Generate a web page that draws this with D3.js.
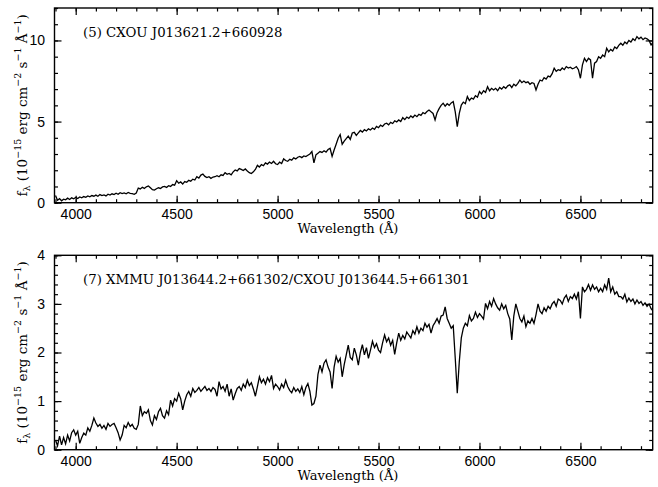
<!DOCTYPE html>
<html>
<head>
<meta charset="utf-8">
<script src="https://cdn.jsdelivr.net/npm/d3@7"></script>
<style>
body { margin: 0; background: #fff; }
</style>
</head>
<body>
<svg id="chart" width="658" height="487"></svg>
<script>
// wavelength bins (Angstrom), one flux value per 10 A bin
const wavelengths = d3.range(3900, 6861, 10);

// (5) CXOU J013621.2+660928, 1e-15 erg/cm2/s/A
const fluxTop = [
    0.45, 0.15, 0.25, 0.12, 0.22, 0.18, 0.28, 0.2, 0.3, 0.24,
    0.32, 0.26, 0.35, 0.3, 0.38, 0.33, 0.42, 0.36, 0.44, 0.4,
    0.47, 0.4, 0.5, 0.44, 0.48, 0.42, 0.52, 0.47, 0.55, 0.5,
    0.58, 0.52, 0.62, 0.56, 0.6, 0.55, 0.63, 0.58, 0.56, 0.52,
    0.6, 0.9, 0.85, 0.95, 0.88, 0.98, 1.03, 0.92, 0.8, 0.78,
    0.86, 0.92, 0.88, 0.97, 1.0, 0.94, 1.05, 1.0, 1.12, 1.08,
    1.36, 1.2, 1.28, 1.15, 1.3, 1.26, 1.38, 1.32, 1.45, 1.4,
    1.6, 1.52, 1.7, 1.76, 1.62, 1.55, 1.6, 1.5, 1.58, 1.6,
    1.66, 1.6, 1.72, 1.68, 1.85, 1.75, 1.8, 1.72, 1.9, 2.02,
    1.96, 2.1, 2.05, 1.98, 2.08, 1.95, 1.85, 1.8, 1.9, 2.05,
    2.3, 2.2, 2.35, 2.28, 2.45, 2.38, 2.5, 2.42, 2.55, 2.4,
    2.35, 2.5, 2.42, 2.7, 2.6, 2.55, 2.68, 2.62, 2.76, 2.7,
    2.8, 2.85, 2.78, 2.88, 2.84, 2.92, 3.0, 3.15, 2.45, 2.95,
    3.05, 3.15, 3.1, 3.2, 3.12, 3.28, 3.35, 2.85, 3.25, 3.6,
    3.97, 4.2, 3.6, 3.8, 3.95, 4.1, 3.9, 4.3, 4.34, 4.15,
    4.3, 4.45, 4.35, 4.5, 4.42, 4.55, 4.48, 4.6, 4.52, 4.7,
    4.62, 4.78, 4.7, 4.85, 4.9, 4.8, 4.95, 4.88, 5.05, 4.98,
    5.1, 5.0, 5.24, 5.12, 5.28, 5.2, 5.35, 5.25, 5.4, 5.3,
    5.45, 5.38, 5.55, 5.48, 5.62, 5.71, 5.6, 5.5, 5.1, 5.55,
    5.8, 6.0, 6.13, 5.95, 6.1, 6.0, 6.15, 6.23, 5.6, 4.69,
    5.5, 6.02, 6.2, 6.1, 6.54, 6.3, 6.45, 6.38, 6.6, 6.5,
    6.85, 6.7, 6.9, 6.8, 7.15, 6.9, 7.05, 6.95, 7.05, 6.9,
    7.1, 7.0, 7.15, 7.05, 7.2, 7.26, 7.1, 7.3, 7.2, 7.35,
    7.56, 7.4, 7.5, 7.4, 7.45, 7.3, 7.4, 7.35, 6.95, 7.3,
    7.56, 7.5, 7.7, 7.62, 7.8, 7.75, 7.95, 8.29, 8.1, 8.2,
    8.15, 8.3, 8.2, 8.39, 8.3, 8.35, 8.25, 8.3, 8.39, 8.2,
    7.67, 8.5, 8.9, 8.7, 8.9, 8.8, 7.67, 8.6, 8.7, 9.0,
    8.9, 9.1, 9.0, 9.52, 9.3, 9.45, 9.35, 9.6, 9.5, 9.7,
    9.83, 9.7, 9.9, 9.8, 10.0, 9.9, 10.1, 10.0, 10.24, 10.1,
    10.2, 10.05, 10.15, 10.1, 10.0, 9.72, 9.9
];

// (7) XMMU J013644.2+661302 / CXOU J013644.5+661301
const fluxBottom = [
    0.2, 0.08, 0.28, 0.1, 0.25, 0.12, 0.3, 0.18, 0.35, 0.41,
    0.3, 0.38, 0.13, 0.25, 0.34, 0.3, 0.45, 0.38, 0.5, 0.65,
    0.55, 0.48, 0.52, 0.44, 0.5, 0.42, 0.54, 0.48, 0.52, 0.54,
    0.45, 0.35, 0.2, 0.3, 0.5, 0.45, 0.56, 0.48, 0.52, 0.44,
    0.42, 0.52, 0.9, 0.7, 0.78, 0.75, 0.82, 0.6, 0.51, 0.7,
    0.62, 0.78, 0.85, 0.7, 0.65, 0.8, 0.72, 1.02, 0.9, 1.05,
    1.0, 1.16, 1.05, 0.82, 1.0, 1.13, 1.2, 1.1, 1.26, 1.18,
    1.22, 1.28, 1.2, 1.25, 1.3, 1.22, 1.26, 1.2, 1.28, 1.24,
    1.1, 1.4, 1.25, 1.3, 1.2, 1.35, 1.1, 1.25, 1.02, 1.15,
    1.26, 1.3, 1.22, 1.35, 1.28, 1.43, 1.32, 1.38, 1.25, 1.1,
    1.3, 1.5, 1.38, 1.45, 1.35, 1.48, 1.4, 1.53, 1.26, 1.35,
    1.3, 1.23, 1.35, 1.28, 1.43, 1.3, 1.22, 1.17, 1.28, 1.2,
    1.25, 1.18, 1.3, 1.13, 1.28, 1.36, 1.2, 0.92, 0.95, 1.1,
    1.55, 1.74, 1.6, 1.78, 1.85, 1.7, 1.6, 1.26, 1.7, 1.92,
    1.8, 1.88, 1.5, 1.75, 1.95, 2.15, 1.9, 1.85, 2.09, 1.95,
    1.74, 2.0, 2.16, 1.95, 2.1, 1.88, 2.05, 2.23, 2.1, 2.18,
    2.05, 2.0, 2.2, 2.36, 2.22, 2.3, 2.15, 2.25, 1.96, 2.2,
    2.4, 2.25, 2.35, 2.28, 2.42, 2.36, 2.3, 2.45, 2.38, 2.53,
    2.4, 2.5, 2.45, 2.6, 2.52, 2.58, 2.4, 2.55, 2.62, 2.7,
    2.6, 2.75, 2.77, 2.94, 2.7, 2.6, 2.5, 2.55, 1.88, 1.16,
    1.81, 2.3, 2.5, 2.6, 2.55, 2.76, 2.65, 2.7, 2.83, 2.72,
    2.8, 2.75, 2.69, 3.01, 2.9, 3.05, 2.95, 3.11, 3.0, 2.92,
    2.87, 3.0, 2.9, 2.97, 2.8, 2.69, 2.26, 2.75, 3.0, 2.85,
    2.7, 2.63, 2.75, 2.53, 2.65, 2.6, 2.7, 2.6, 2.78, 3.0,
    2.85, 2.8, 2.92, 2.85, 2.95, 2.9, 3.0, 3.05, 2.95, 3.1,
    3.07, 3.0, 3.12, 3.18, 3.05, 3.15, 3.11, 3.2, 3.1, 3.25,
    2.7, 3.35, 3.25, 3.3, 3.4, 3.28, 3.39, 3.3, 3.35, 3.25,
    3.32, 3.25, 3.39, 3.3, 3.53, 3.25, 3.35, 3.2, 3.25, 3.15,
    3.15, 3.1, 3.2, 3.04, 3.12, 3.05, 3.1, 3.0, 3.08, 3.01,
    3.05, 2.97, 3.02, 2.95, 3.0, 2.9, 2.85
];

const xMajor = [4000, 4500, 5000, 5500, 6000, 6500];
const xMinor = d3.range(3900, 6860, 100);
const titles = ["(5) CXOU J013621.2+660928",
                "(7) XMMU J013644.2+661302/CXOU J013644.5+661301"];

const svg = d3.select("#chart");
const x = d3.scaleLinear().domain([3895, 6858]).range([54.5, 652.7]);

const panels = [
    { flux: fluxTop, ymax: 12, top: 8, bottom: 202.7,
      major: [0, 5, 10], minor: d3.range(0, 12.01, 1), title: titles[0] },
    { flux: fluxBottom, ymax: 4, top: 255.3, bottom: 449.7,
      major: [0, 1, 2, 3, 4], minor: d3.range(0, 4.01, 0.2), title: titles[1] }
];

const serif = "'DejaVu Serif', serif";
const sans = "'Liberation Sans', Arial, sans-serif";

panels.forEach((p, i) => {
    const y = d3.scaleLinear().domain([0, p.ymax]).range([p.bottom, p.top]);
    const g = svg.append("g");

    g.append("clipPath").attr("id", "clip" + i)
        .append("rect")
        .attr("x", x.range()[0]).attr("y", p.top)
        .attr("width", x.range()[1] - x.range()[0])
        .attr("height", p.bottom - p.top);

    const line = d3.line()
        .x((d, k) => x(wavelengths[k]))
        .y(d => y(d));

    g.append("path")
        .datum(p.flux)
        .attr("clip-path", `url(#clip${i})`)
        .attr("fill", "none")
        .attr("stroke", "#000")
        .attr("stroke-width", 1.3)
        .attr("d", line);

    // ticks point inward on all four sides
    const addAxis = (axis, tx, ty, labels) => {
        const a = g.append("g").attr("transform", `translate(${tx},${ty})`).call(axis);
        a.select(".domain").remove();
        a.selectAll("line").attr("stroke", "#000").attr("stroke-width", 1.2);
        if (!labels) a.selectAll("text").remove();
        return a;
    };
    const left = x.range()[0], right = x.range()[1];

    addAxis(d3.axisBottom(x).tickValues(xMinor).tickSize(-3.5).tickFormat(""), 0, p.bottom);
    addAxis(d3.axisTop(x).tickValues(xMinor).tickSize(-3.5).tickFormat(""), 0, p.top);
    addAxis(d3.axisTop(x).tickValues(xMajor).tickSize(-7).tickFormat(""), 0, p.top);
    const xa = addAxis(d3.axisBottom(x).tickValues(xMajor).tickSize(-7).tickPadding(6.5).tickFormat(d3.format("d")), 0, p.bottom, true);
    xa.selectAll("text").attr("font-family", sans).attr("font-size", 14).attr("fill", "#000");

    addAxis(d3.axisLeft(y).tickValues(p.minor).tickSize(-3.5).tickFormat(""), left, 0);
    addAxis(d3.axisRight(y).tickValues(p.minor).tickSize(-3.5).tickFormat(""), right, 0);
    addAxis(d3.axisRight(y).tickValues(p.major).tickSize(-7).tickFormat(""), right, 0);
    const ya = addAxis(d3.axisLeft(y).tickValues(p.major).tickSize(-7).tickPadding(9.5).tickFormat(d3.format("d")), left, 0, true);
    ya.selectAll("text").attr("font-family", sans).attr("font-size", 14).attr("fill", "#000");

    g.append("rect")
        .attr("x", left).attr("y", p.top)
        .attr("width", right - left).attr("height", p.bottom - p.top)
        .attr("fill", "none").attr("stroke", "#000").attr("stroke-width", 1.4);

    g.append("text")
        .attr("x", 83).attr("y", p.top + 29)
        .attr("font-family", serif).attr("font-size", 13.3)
        .text(p.title);

    g.append("text")
        .attr("x", 348).attr("y", p.bottom + 30.5)
        .attr("text-anchor", "middle")
        .attr("font-family", serif).attr("font-size", 13)
        .text("Wavelength (Å)");

    const yl = g.append("text")
        .attr("transform", `translate(27,${(p.top + p.bottom) / 2}) rotate(-90)`)
        .attr("text-anchor", "middle")
        .attr("font-family", serif).attr("font-size", 13.5);
    yl.append("tspan").text("f");
    yl.append("tspan").attr("dy", 3).attr("font-size", 9.5).text("λ");
    yl.append("tspan").attr("dy", -3).text(" (10");
    yl.append("tspan").attr("dy", -6).attr("font-size", 9.5).text("−15");
    yl.append("tspan").attr("dy", 6).text(" erg cm");
    yl.append("tspan").attr("dy", -6).attr("font-size", 9.5).text("−2");
    yl.append("tspan").attr("dy", 6).text(" s");
    yl.append("tspan").attr("dy", -6).attr("font-size", 9.5).text("−1");
    yl.append("tspan").attr("dy", 6).text(" Å");
    yl.append("tspan").attr("dy", -6).attr("font-size", 9.5).text("−1");
    yl.append("tspan").attr("dy", 6).text(")");
});
</script>
</body>
</html>
